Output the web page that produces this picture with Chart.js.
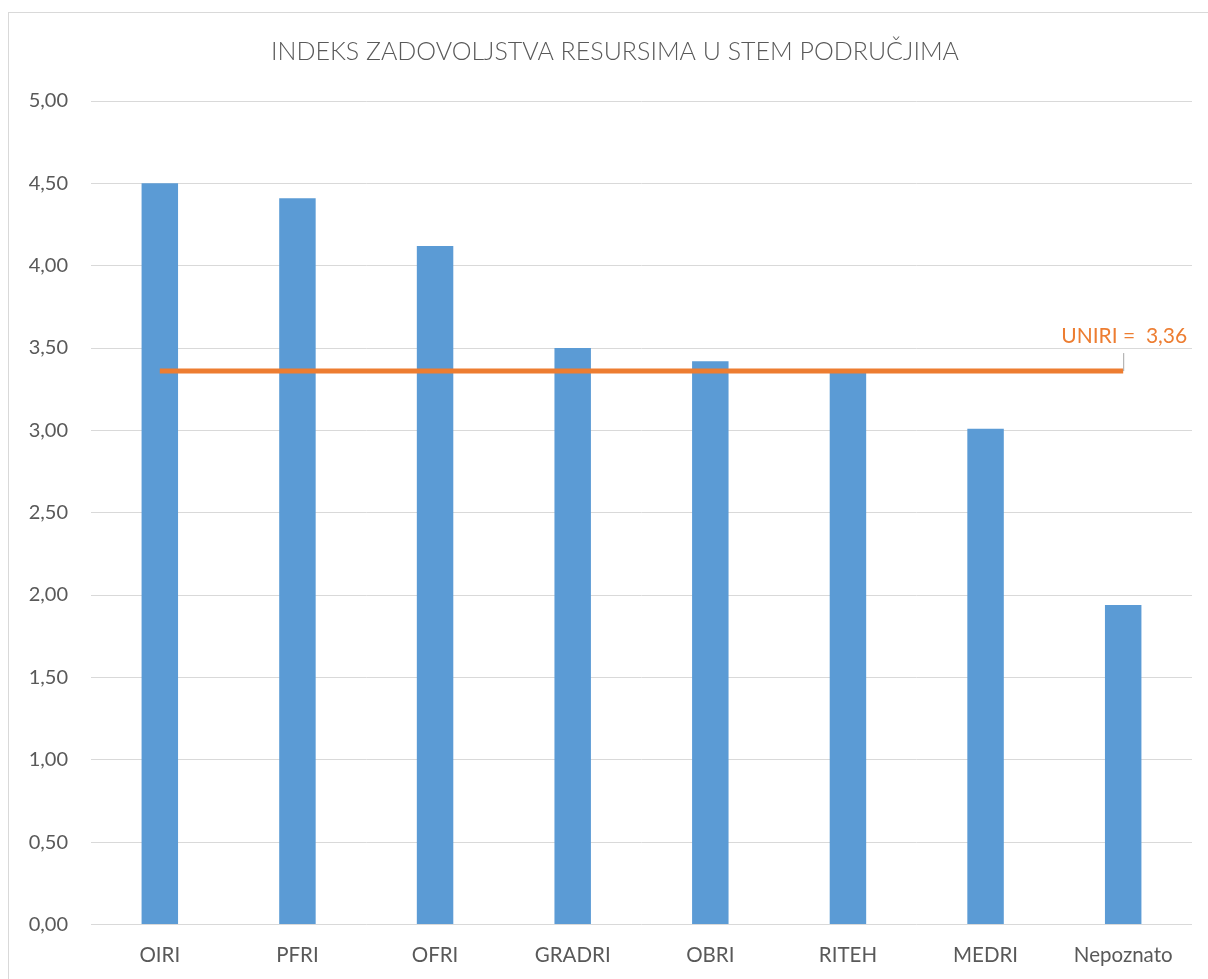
<!DOCTYPE html>
<html>
<head>
<meta charset="utf-8">
<script src="https://cdn.jsdelivr.net/npm/chart.js@4/dist/chart.umd.min.js"></script>
<style>
  html,body{margin:0;padding:0;background:#fff;overflow:hidden;width:1208px;height:979px}
  #frame{position:absolute;left:8px;top:12px;width:1214px;height:1000px;border:1px solid #d9d9d9;box-sizing:border-box}
  #wrap{position:absolute;left:8px;top:12px;width:1214px;height:1000px}
</style>
</head>
<body>
<div id="frame"></div>
<div id="wrap"><canvas id="chart"></canvas></div>
<script>
// podaci s grafikona
const categories = ['OIRI','PFRI','OFRI','GRADRI','OBRI','RITEH','MEDRI','Nepoznato'];
const values = [4.50, 4.41, 4.12, 3.50, 3.42, 3.36, 3.01, 1.94];
const uniriValue = 3.36;
const uniriLabel = 'UNIRI =  3,36';
const yTicks = [0, 0.5, 1, 1.5, 2, 2.5, 3, 3.5, 4, 4.5, 5];

const fontFamily = 'Lato, "Open Sans", sans-serif';
const grey = '#595959';

function fmt(v){ return v.toFixed(2).replace('.', ','); }

// natpis iznad narancaste linije + mala siva crtica
const uniriLabelPlugin = {
  id: 'uniriLabel',
  afterDatasetsDraw(chart){
    const meta = chart.getDatasetMeta(1);
    const last = meta.data[meta.data.length - 1];
    if(!last) return;
    const ctx = chart.ctx;
    const x = last.x, y = last.y;
    ctx.save();
    ctx.strokeStyle = '#a6a6a6';
    ctx.lineWidth = 1;
    ctx.beginPath();
    ctx.moveTo(x + 0.5, y - 18);
    ctx.lineTo(x + 0.5, y);
    ctx.stroke();
    ctx.font = '21px ' + fontFamily;
    ctx.fillStyle = '#ED7D31';
    ctx.textAlign = 'center';
    ctx.textBaseline = 'middle';
    ctx.fillText(uniriLabel, x + 1, y - 35);
    ctx.restore();
  }
};

new Chart(document.getElementById('chart').getContext('2d'), {
  data: {
    labels: categories,
    datasets: [
      {
        type: 'bar',
        data: values,
        backgroundColor: '#5B9BD5',
        categoryPercentage: 1,
        barPercentage: 0.265,
        order: 2
      },
      {
        type: 'line',
        data: categories.map(() => uniriValue),
        borderColor: '#ED7D31',
        borderWidth: 5,
        pointRadius: 0,
        fill: false,
        order: 1
      }
    ]
  },
  options: {
    responsive: true,
    maintainAspectRatio: false,
    animation: false,
    layout: { padding: { left: 0, right: 0, top: 0, bottom: 33 } },
    plugins: {
      legend: { display: false },
      tooltip: { enabled: false },
      title: {
        display: true,
        text: 'INDEKS ZADOVOLJSTVA RESURSIMA U STEM PODRUČJIMA',
        color: grey,
        font: { family: fontFamily, size: 25, weight: '300' },
        padding: { top: 25, bottom: 34 }
      }
    },
    scales: {
      x: {
        grid: { display: false },
        border: { display: false },
        ticks: { color: grey, font: { family: fontFamily, size: 20.5 }, padding: 11 }
      },
      y: {
        min: 0,
        max: 5,
        afterBuildTicks(axis){ axis.ticks = yTicks.map(v => ({ value: v })); },
        afterFit(axis){ axis.width = 83; },
        grid: { color: '#d9d9d9', drawTicks: false, lineWidth: 1 },
        border: { display: false },
        ticks: {
          color: grey,
          font: { family: fontFamily, size: 20 },
          padding: 23,
          callback: v => fmt(v)
        }
      },
      // prazan prostor desno od grafikona
      yRight: {
        position: 'right',
        min: 0,
        max: 5,
        afterFit(axis){ axis.width = 30; },
        grid: { display: false },
        border: { display: false },
        ticks: { display: false }
      }
    }
  },
  plugins: [uniriLabelPlugin]
});
</script>
</body>
</html>
